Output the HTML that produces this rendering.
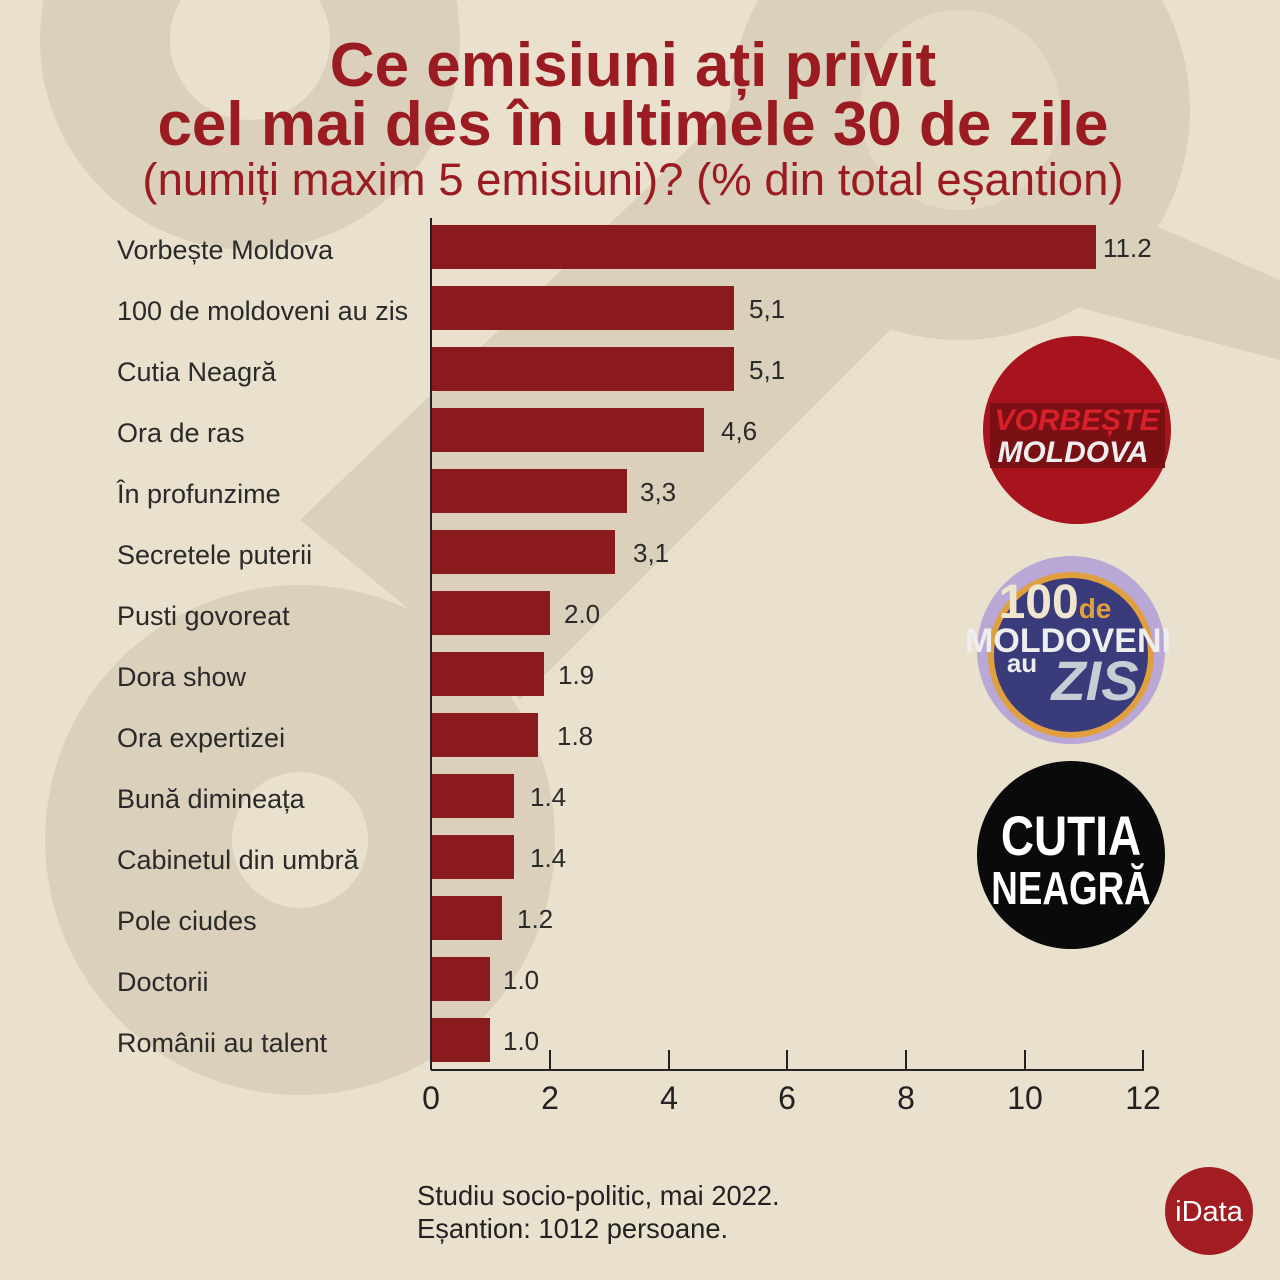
<!DOCTYPE html>
<html><head><meta charset="utf-8"><style>
html,body{margin:0;padding:0;width:1280px;height:1280px;overflow:hidden;background:#e9e1cd}
svg{display:block}
</style></head><body>
<svg width="1280" height="1280" viewBox="0 0 1280 1280" xmlns="http://www.w3.org/2000/svg" font-family="'Liberation Sans', sans-serif">
<rect width="1280" height="1280" fill="#e9e1cd"/>
<g fill="#dbd0bb">
<circle cx="250" cy="40" r="210"/>
<circle cx="960" cy="110" r="230"/>
<path d="M300 520 L760 80 L960 260 L520 700 Z"/>
<path d="M1050 180 L1280 280 L1280 360 L1050 300 Z"/>
<circle cx="300" cy="840" r="255"/>
</g>
<circle cx="250" cy="40" r="80" fill="#e9e1cd"/>
<circle cx="960" cy="110" r="100" fill="#e3dac4"/>
<circle cx="300" cy="840" r="68" fill="#e9e1cd"/>
<g fill="#9a1c22" text-anchor="middle">
<text x="633" y="86" font-size="62" font-weight="bold">Ce emisiuni ați privit</text>
<text x="633" y="145" font-size="62" font-weight="bold">cel mai des în ultimele 30 de zile</text>
<text x="633" y="195" font-size="45.5">(numiți maxim 5 emisiuni)? (% din total eșantion)</text>
</g>
<g fill="#8b1a1f">
<rect x="431" y="225" width="665" height="44"/>
<rect x="431" y="286" width="303" height="44"/>
<rect x="431" y="347" width="303" height="44"/>
<rect x="431" y="408" width="273" height="44"/>
<rect x="431" y="469" width="196" height="44"/>
<rect x="431" y="530" width="184" height="44"/>
<rect x="431" y="591" width="119" height="44"/>
<rect x="431" y="652" width="113" height="44"/>
<rect x="431" y="713" width="107" height="44"/>
<rect x="431" y="774" width="83" height="44"/>
<rect x="431" y="835" width="83" height="44"/>
<rect x="431" y="896" width="71" height="44"/>
<rect x="431" y="957" width="59" height="44"/>
<rect x="431" y="1018" width="59" height="44"/>
</g>
<g fill="#2a2a2a" font-size="27">
<text x="117" y="259">Vorbește Moldova</text>
<text x="117" y="320">100 de moldoveni au zis</text>
<text x="117" y="381">Cutia Neagră</text>
<text x="117" y="442">Ora de ras</text>
<text x="117" y="503">În profunzime</text>
<text x="117" y="564">Secretele puterii</text>
<text x="117" y="625">Pusti govoreat</text>
<text x="117" y="686">Dora show</text>
<text x="117" y="747">Ora expertizei</text>
<text x="117" y="808">Bună dimineața</text>
<text x="117" y="869">Cabinetul din umbră</text>
<text x="117" y="930">Pole ciudes</text>
<text x="117" y="991">Doctorii</text>
<text x="117" y="1052">Românii au talent</text>
</g>
<g fill="#2a2a2a" font-size="26">
<text x="1103" y="257">11.2</text>
<text x="749" y="318">5,1</text>
<text x="749" y="379">5,1</text>
<text x="721" y="440">4,6</text>
<text x="640" y="501">3,3</text>
<text x="633" y="562">3,1</text>
<text x="564" y="623">2.0</text>
<text x="558" y="684">1.9</text>
<text x="557" y="745">1.8</text>
<text x="530" y="806">1.4</text>
<text x="530" y="867">1.4</text>
<text x="517" y="928">1.2</text>
<text x="503" y="989">1.0</text>
<text x="503" y="1050">1.0</text>
</g>
<g stroke="#222" stroke-width="2">
<line x1="431" y1="218" x2="431" y2="1070"/>
<line x1="431" y1="1070" x2="1144" y2="1070"/>
<line x1="550" y1="1050" x2="550" y2="1070"/>
<line x1="669" y1="1050" x2="669" y2="1070"/>
<line x1="787" y1="1050" x2="787" y2="1070"/>
<line x1="906" y1="1050" x2="906" y2="1070"/>
<line x1="1025" y1="1050" x2="1025" y2="1070"/>
<line x1="1143" y1="1050" x2="1143" y2="1070"/>
</g>
<g fill="#222" font-size="32" text-anchor="middle">
<text x="431" y="1109">0</text><text x="550" y="1109">2</text><text x="669" y="1109">4</text>
<text x="787" y="1109">6</text><text x="906" y="1109">8</text><text x="1025" y="1109">10</text><text x="1143" y="1109">12</text>
</g>
<circle cx="1077" cy="430" r="94" fill="#a8141d"/>
<rect x="990" y="403" width="175" height="65" fill="#7a0f14"/>
<text x="1077" y="430" text-anchor="middle" font-size="30" font-weight="bold" font-style="italic" fill="#d8202a">VORBEȘTE</text>
<text x="1073" y="462" text-anchor="middle" font-size="30" font-weight="bold" font-style="italic" fill="#eee">MOLDOVA</text>
<circle cx="1071" cy="650" r="94" fill="#b9a7d6"/>
<circle cx="1071" cy="655" r="80" fill="#3a3b7a" stroke="#e0a040" stroke-width="6"/>
<text x="1055" y="618" text-anchor="middle" font-size="48" font-weight="bold" fill="#f0e6d0">100<tspan font-size="28" fill="#e0a040">de</tspan></text>
<text x="1068" y="652" text-anchor="middle" font-size="34" font-weight="bold" fill="#eee">MOLDOVENI</text>
<text x="1095" y="700" text-anchor="middle" font-size="56" font-weight="bold" font-style="italic" fill="#c8ccd4">ZIS</text>
<text x="1022" y="672" text-anchor="middle" font-size="26" font-weight="bold" fill="#eee">au</text>
<circle cx="1071" cy="855" r="94" fill="#0a0a0a"/>
<text x="1071" y="855" text-anchor="middle" font-size="56" font-weight="bold" fill="#fff" transform="translate(1071 0) scale(0.82 1) translate(-1071 0)">CUTIA</text>
<text x="1071" y="904" text-anchor="middle" font-size="46" font-weight="bold" fill="#fff" transform="translate(1071 0) scale(0.8 1) translate(-1071 0)">NEAGRĂ</text>
<g fill="#222" font-size="27.3">
<text x="417" y="1205">Studiu socio-politic, mai 2022.</text>
<text x="417" y="1238">Eșantion: 1012 persoane.</text>
</g>
<circle cx="1209" cy="1211" r="44" fill="#a11d22"/>
<text x="1209" y="1221" text-anchor="middle" font-size="29" fill="#fff">iData</text>
</svg>
</body></html>
